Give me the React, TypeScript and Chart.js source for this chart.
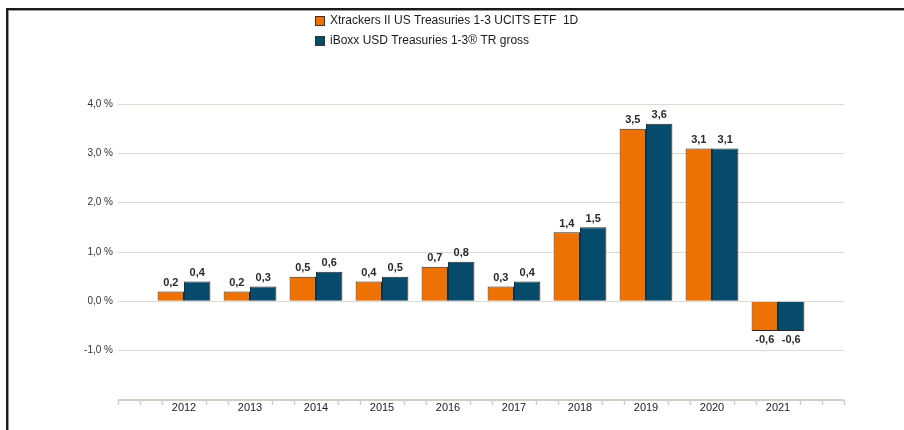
import React, { useEffect, useRef } from "react";
import { Chart, registerables } from "chart.js";

Chart.register(...registerables);

const years = ["2012", "2013", "2014", "2015", "2016", "2017", "2018", "2019", "2020", "2021"];
const etfValues = [0.2, 0.2, 0.5, 0.4, 0.7, 0.3, 1.4, 3.5, 3.1, -0.6];
const indexValues = [0.4, 0.3, 0.6, 0.5, 0.8, 0.4, 1.5, 3.6, 3.1, -0.6];
const yTicks = [-1, 0, 1, 2, 3, 4];
const seriesNames = ["Xtrackers II US Treasuries 1-3 UCITS ETF  1D", "iBoxx USD Treasuries 1-3® TR gross"];
const seriesColors = ["#EE7203", "#064A6C"];

const FONT = "'Liberation Sans', Arial, sans-serif";
const fmt = (v: number) => v.toFixed(1).replace(".", ",");

const labels = ["", ...years, ""];
const pad = (arr: number[]) => [null, ...arr, null];

const framePlugin = {
  id: "frame",
  beforeDraw(chart: any) {
    const { ctx, width, height } = chart;
    ctx.save();
    ctx.fillStyle = "#ffffff";
    ctx.fillRect(0, 0, width, height);
    ctx.fillStyle = "#9a9a9a";
    ctx.fillRect(6, 8, width - 6, 3);
    ctx.fillRect(6, 8, 3, height - 8);
    ctx.fillStyle = "#1a1a1a";
    ctx.fillRect(6, 8, width - 6, 2);
    ctx.fillRect(6, 8, 2, height - 8);
    ctx.restore();
  },
};

const axisPlugin = {
  id: "xaxisDeco",
  afterDraw(chart: any) {
    const { ctx } = chart;
    const x = chart.scales.x;
    const y0 = chart.chartArea.bottom;
    ctx.save();
    ctx.strokeStyle = "#d3cfc6";
    ctx.lineWidth = 2;
    ctx.beginPath();
    ctx.moveTo(x.left, y0);
    ctx.lineTo(x.right, y0);
    ctx.stroke();
    ctx.lineWidth = 1.5;
    const n = labels.length;
    for (let i = 0; i < n; i++) {
      for (let k = 0; k < 3; k++) {
        if (i === n - 1 && k > 0) continue;
        if (k === 0 && i > 0 && i < n - 1) continue;
        const px = Math.round(x.getPixelForValue(i + k / 3)) + 0.5;
        ctx.beginPath();
        ctx.moveTo(px, y0);
        ctx.lineTo(px, y0 + 5);
        ctx.stroke();
      }
    }
    ctx.restore();
  },
};

const valueLabelPlugin = {
  id: "valueLabels",
  afterDatasetsDraw(chart: any) {
    const { ctx } = chart;
    ctx.save();
    ctx.font = `bold 11px ${FONT}`;
    ctx.fillStyle = "#2a2a2a";
    ctx.textAlign = "center";
    chart.data.datasets.forEach((ds: any, di: number) => {
      const meta = chart.getDatasetMeta(di);
      meta.data.forEach((bar: any, i: number) => {
        const v = ds.data[i];
        if (v === null || v === undefined) return;
        if (v >= 0) {
          ctx.textBaseline = "bottom";
          ctx.fillText(fmt(v), bar.x, bar.y - 3);
        } else {
          ctx.textBaseline = "top";
          ctx.fillText(fmt(v), bar.x, bar.y + 4);
        }
      });
    });
    ctx.restore();
  },
};

const legendPlugin = {
  id: "customLegend",
  afterDraw(chart: any) {
    const { ctx } = chart;
    ctx.save();
    ctx.font = `12px ${FONT}`;
    ctx.textBaseline = "middle";
    ctx.textAlign = "left";
    chart.data.datasets.forEach((ds: any, i: number) => {
      const cy = 21 + i * 20;
      ctx.fillStyle = ds.backgroundColor;
      ctx.fillRect(315, cy - 5, 10, 10);
      ctx.strokeStyle = "#333333";
      ctx.lineWidth = 1;
      ctx.strokeRect(315.5, cy - 4.5, 9, 9);
      ctx.fillStyle = "#1a1a1a";
      ctx.fillText(ds.label, 330, cy);
    });
    ctx.restore();
  },
};

export default function App() {
  const ref = useRef<HTMLCanvasElement | null>(null);

  useEffect(() => {
    if (!ref.current) return;
    const chart = new Chart(ref.current, {
      type: "bar",
      data: {
        labels,
        datasets: [
          {
            label: seriesNames[0],
            data: pad(etfValues),
            backgroundColor: seriesColors[0],
            borderColor: "#2b2b2b",
            borderWidth: 1,
          },
          {
            label: seriesNames[1],
            data: pad(indexValues),
            backgroundColor: seriesColors[1],
            borderColor: "#2b2b2b",
            borderWidth: 1,
          },
        ],
      } as any,
      options: {
        responsive: false,
        animation: false,
        datasets: { bar: { categoryPercentage: 0.8, barPercentage: 1 } },
        layout: { padding: { left: 0, top: 104, right: 60, bottom: 0 } },
        plugins: {
          legend: { display: false },
          tooltip: { enabled: false },
        },
        scales: {
          x: {
            type: "category",
            offset: false,
            grid: { display: false, drawTicks: false },
            border: { display: false },
            afterFit: (s: any) => {
              s.height = 30;
            },
            ticks: {
              autoSkip: false,
              maxRotation: 0,
              minRotation: 0,
              padding: 1,
              color: "#222222",
              font: { family: FONT, size: 11 },
              callback: (_v: any, i: number) => labels[i],
            },
          },
          y: {
            min: -2,
            max: 4,
            afterBuildTicks: (s: any) => {
              s.ticks = yTicks.map((v) => ({ value: v }));
            },
            afterFit: (s: any) => {
              s.width = 118;
            },
            grid: { color: "#dcd9d3", lineWidth: 1, drawTicks: false },
            border: { display: false },
            ticks: {
              padding: 5,
              color: "#333333",
              font: { family: FONT, size: 10 },
              callback: (v: any) => `${fmt(Number(v))} %`,
            },
          },
        },
      },
      plugins: [framePlugin, axisPlugin, valueLabelPlugin, legendPlugin],
    });
    return () => chart.destroy();
  }, []);

  return (
    <div style={{ position: "fixed", left: 0, top: 0, width: 904, height: 430, background: "#fff" }}>
      <canvas ref={ref} width={904} height={430} style={{ width: 904, height: 430, display: "block" }} />
    </div>
  );
}
